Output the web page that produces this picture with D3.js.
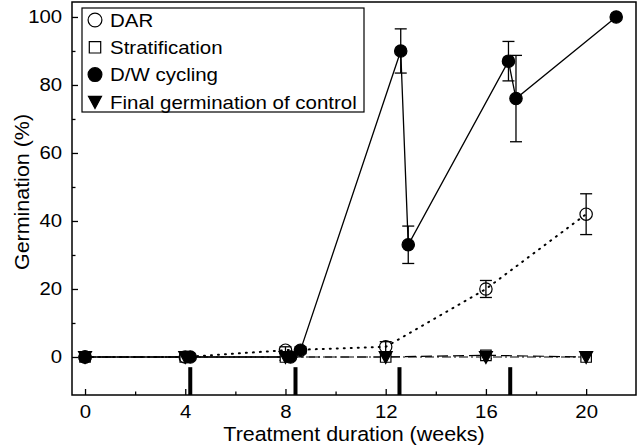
<!DOCTYPE html>
<html><head><meta charset="utf-8">
<script src="https://cdn.jsdelivr.net/npm/d3@7"></script>
<style>
html,body{margin:0;padding:0;background:#fff;}
svg text{font-family:"Liberation Sans",Arial,Helvetica,sans-serif;fill:#000;}
</style></head>
<body><svg id="c" width="640" height="448"></svg>
<script>
// ---- data ----
const darX = [0, 4, 8, 12, 16, 20];
const darY = [0, 0, 2, 3, 20, 42];
const darErr = [0, 0, 1, 1.5, 2.5, 6];

const stratX = [0, 4, 8, 12, 16, 20];
const stratY = [0, 0, 0, 0, 0.5, 0];
const stratErr = [0, 0, 1, 0, 1, 0];

const dwX = [0, 4.2, 8.2, 8.6, 12.6, 12.9, 16.9, 17.2, 21.2];
const dwY = [0, 0, 0, 2, 90, 33, 87, 76, 100];
const dwErr = [0, 0, 0, 1, 6.5, 5.5, 5.8, 12.7, 0];

const ctrlX = [0, 4, 8, 12, 16, 20];
const ctrlY = [0, 0, 0, 0, 0, 0];

const markX = [4.2, 8.4, 12.55, 16.97];   // bars along the x axis
const markTop = -3;

const xTicks = [0, 4, 8, 12, 16, 20];
const xMinor = [2, 6, 10, 14, 18];
const yTicks = [0, 20, 40, 60, 80, 100];
const yMinor = [10, 30, 50, 70, 90];

const legendLabels = ["DAR", "Stratification", "D/W cycling", "Final germination of control"];

// ---- layout ----
const L = 72, R = 636, T = 2, B = 395;
const x = d3.scaleLinear().domain([-0.52, 21.99]).range([L, R]);
const y = d3.scaleLinear().domain([-11.18, 104.4]).range([B, T]);
const SX = 1.1;

const svg = d3.select("#c");

// bars at bottom
svg.append("g").selectAll("rect").data(markX).join("rect")
  .attr("x", d => x(d) - 2).attr("width", 4)
  .attr("y", y(markTop)).attr("height", B - y(markTop))
  .attr("fill", "#000");

// axes
const gx = svg.append("g").attr("transform", `translate(0,${B})`)
  .call(d3.axisBottom(x).tickValues(xTicks).tickSize(-6).tickPadding(10).tickFormat(d3.format("d")));
const gxm = svg.append("g").attr("transform", `translate(0,${B})`)
  .call(d3.axisBottom(x).tickValues(xMinor).tickSize(-3.5).tickFormat(""));
const gy = svg.append("g").attr("transform", `translate(${L},0)`)
  .call(d3.axisLeft(y).tickValues(yTicks).tickSize(-6).tickPadding(9).tickFormat(d3.format("d")));
const gym = svg.append("g").attr("transform", `translate(${L},0)`)
  .call(d3.axisLeft(y).tickValues(yMinor).tickSize(-3.5).tickFormat(""));
[gx, gxm, gy, gym].forEach(g => {
  g.select(".domain").remove();
  g.selectAll("line").attr("stroke", "#000").attr("stroke-width", 1.3);
  g.selectAll("text").attr("font-size", 18.5).attr("font-family", null)
    .attr("transform", `scale(${SX},1)`);
});

// frame
svg.append("rect").attr("x", L).attr("y", T).attr("width", R - L).attr("height", B - T)
  .attr("fill", "none").attr("stroke", "#000").attr("stroke-width", 1.5);

// axis titles
svg.append("text").attr("transform", `translate(${(L + R) / 2},441) scale(${SX},1)`)
  .attr("text-anchor", "middle").attr("font-size", 19.5).text("Treatment duration (weeks)");
svg.append("text").attr("transform", `translate(29,192) rotate(-90) scale(${SX},1)`)
  .attr("text-anchor", "middle").attr("font-size", 19.5).text("Germination (%)");

const zip = (xs, ys, es) => xs.map((v, i) => ({x: v, y: ys[i], e: es ? es[i] : 0}));
const dar = zip(darX, darY, darErr), strat = zip(stratX, stratY, stratErr),
      dw = zip(dwX, dwY, dwErr), ctrl = zip(ctrlX, ctrlY);

const line = d3.line().x(d => x(d.x)).y(d => y(d.y));
const plot = svg.append("g");

function drawLine(data, dash, w) {
  plot.append("path").attr("d", line(data)).attr("fill", "none")
    .attr("stroke", "#000").attr("stroke-width", w).attr("stroke-dasharray", dash)
    .attr("stroke-linecap", dash === "1,6" ? "round" : "butt");
}
drawLine(ctrl, "9,3,2,3", 1.2);
drawLine(strat, "11,5", 1.2);
drawLine(dar, "1,6", 2);
drawLine(dw, null, 1.3);

function drawErr(data) {
  const g = plot.append("g").attr("stroke", "#000").attr("stroke-width", 1.3);
  data.filter(d => d.e > 0).forEach(d => {
    const cx = x(d.x), t = y(d.y + d.e), b = y(d.y - d.e);
    g.append("line").attr("x1", cx).attr("x2", cx).attr("y1", t).attr("y2", b);
    g.append("line").attr("x1", cx - 6).attr("x2", cx + 6).attr("y1", t).attr("y2", t);
    g.append("line").attr("x1", cx - 6).attr("x2", cx + 6).attr("y1", b).attr("y2", b);
  });
}
drawErr(strat); drawErr(dar); drawErr(dw);

const sym = {
  circle: d3.symbol().type(d3.symbolCircle).size(120)(),
  square: d3.symbol().type(d3.symbolSquare).size(110)(),
  tri: "M-6.5,-5.5L6.5,-5.5L0,6.5Z"
};
function drawPts(data, path, fill) {
  plot.append("g").selectAll("path").data(data).join("path")
    .attr("transform", d => `translate(${x(d.x)},${y(d.y)})`)
    .attr("d", path).attr("fill", fill).attr("stroke", "#000").attr("stroke-width", 1.2);
}
drawPts(strat, sym.square, "#fff");
drawPts(ctrl, sym.tri, "#000");
drawPts(dar, sym.circle, "none");
drawPts(dw, sym.circle, "#000");

// legend
const legSym = {
  circle: d3.symbol().type(d3.symbolCircle).size(150)(),
  square: d3.symbol().type(d3.symbolSquare).size(130)()
};
const lg = svg.append("g");
lg.append("rect").attr("x", 82).attr("y", 8).attr("width", 282).attr("height", 104)
  .attr("fill", "#fff").attr("stroke", "#000").attr("stroke-width", 1.2);
const legSyms = [[legSym.circle, "#fff"], [legSym.square, "#fff"], [legSym.circle, "#000"], [sym.tri, "#000"]];
legendLabels.forEach((lab, i) => {
  const yy = 20 + i * 27.3;
  lg.append("path").attr("transform", `translate(95,${yy})`).attr("d", legSyms[i][0])
    .attr("fill", legSyms[i][1]).attr("stroke", "#000").attr("stroke-width", 1.2);
  lg.append("text").attr("transform", `translate(110,${yy + 6.8}) scale(${SX},1)`)
    .attr("font-size", 18.6).text(lab);
});
</script></body></html>
